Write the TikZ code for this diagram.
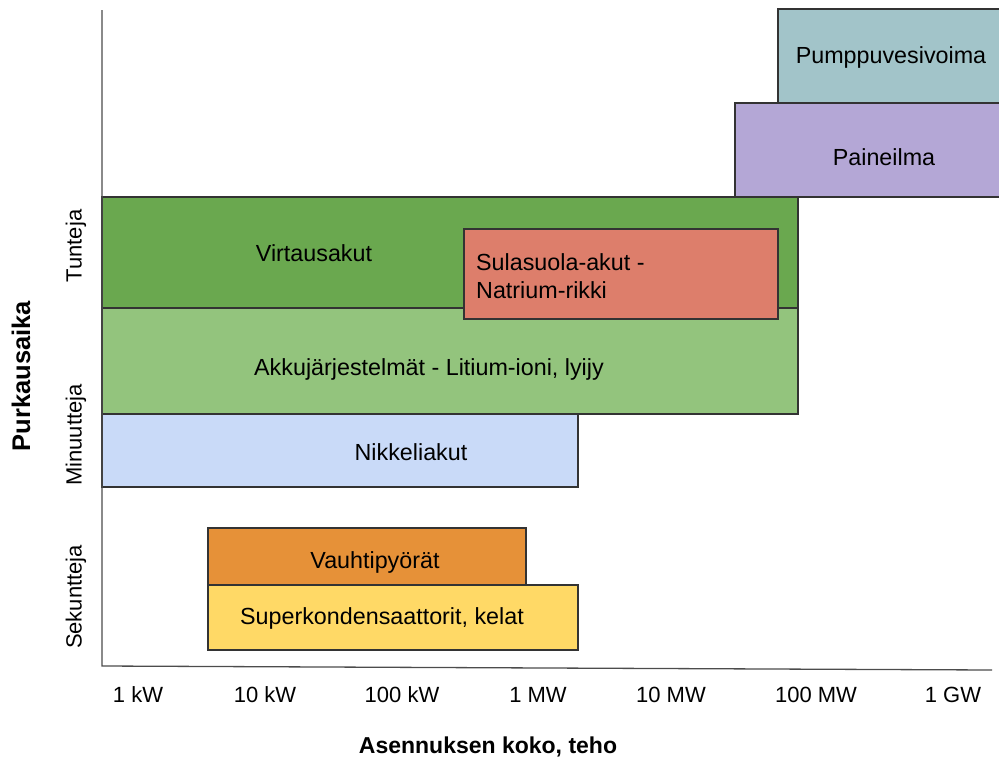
\documentclass[tikz,border=0pt]{standalone}
\usepackage{fontspec}
\setmainfont{Liberation Sans}
\definecolor{pumpcol}{HTML}{A2C4C9}
\definecolor{aircol}{HTML}{B4A7D6}
\definecolor{flowcol}{HTML}{6AA84F}
\definecolor{saltcol}{HTML}{DD7E6B}
\definecolor{lithcol}{HTML}{93C47D}
\definecolor{nickcol}{HTML}{C9DAF8}
\definecolor{wheelcol}{HTML}{E69138}
\definecolor{capcol}{HTML}{FFD966}
\tikzset{%
  techbox/.style   = {draw=black!80, line width=1.2pt},%
  axisline/.style  = {draw=black!70, line width=1.3pt},%
  boxlabel/.style  = {font=\fontsize{23.3}{28}\selectfont, inner sep=0pt},%
  ticklabel/.style = {font=\fontsize{22}{26}\selectfont, inner sep=0pt},%
  rowlabel/.style  = {ticklabel, rotate=90},%
  axistitle/.style = {font=\bfseries\fontsize{23}{27}\selectfont, inner sep=0pt}%
}

\begin{document}
\begin{tikzpicture}[x=1pt,y=-1pt]
	\clip (0,0) rectangle (999,761);
	% storage technologies
	\draw[techbox, fill=pumpcol]  (778,9)   rectangle (1010,103);
	\draw[techbox, fill=aircol]   (735,103) rectangle (1010,197);
	\draw[techbox, fill=flowcol]  (102,197) rectangle (798,308);
	\draw[techbox, fill=lithcol]  (102,308) rectangle (798,414);
	\draw[techbox, fill=saltcol]  (464,229) rectangle (778,319);
	\draw[techbox, fill=nickcol]  (102,414) rectangle (578,487);
	\draw[techbox, fill=wheelcol] (208,528) rectangle (526,585);
	\draw[techbox, fill=capcol]   (208,585) rectangle (578,650);
	\node[boxlabel] (pump)  at (891,57)  {Pumppuvesivoima};
	\node[boxlabel] (air)   at (884,157) {Paineilma};
	\node[boxlabel] (flow)  at (314,253) {Virtausakut};
	\node[boxlabel, align=left, anchor=west] (salt) at (476,276) {Sulasuola-akut -\\Natrium-rikki};
	\node[boxlabel] (lith)  at (429,369) {Akkujärjestelmät - Litium-ioni, lyijy};
	\node[boxlabel] (nick)  at (411,452) {Nikkeliakut};
	\node[boxlabel] (wheel) at (375,562) {Vauhtipyörät};
	\node[boxlabel] (cap)   at (382,618) {Superkondensaattorit, kelat};
	% axes
	\coordinate (top)    at (102,10);
	\coordinate (origin) at (102,666);
	\coordinate (right)  at (992,670);
	\draw[axisline] (top) -- (origin) -- (right);
	\node[ticklabel] (kw1)   at (138,695) {1 kW};
	\node[ticklabel] (kw10)  at (265,695) {10 kW};
	\node[ticklabel] (kw100) at (402,695) {100 kW};
	\node[ticklabel] (mw1)   at (538,695) {1 MW};
	\node[ticklabel] (mw10)  at (671,695) {10 MW};
	\node[ticklabel] (mw100) at (816,695) {100 MW};
	\node[ticklabel] (gw1)   at (953,695) {1 GW};
	\node[rowlabel] (hours)   at (76,246) {Tunteja};
	\node[rowlabel] (minutes) at (76,435) {Minuutteja};
	\node[rowlabel] (seconds) at (76,597) {Sekuntteja};
	\node[axistitle] (xtitle) at (488,747) {Asennuksen koko, teho};
	\node[axistitle, rotate=90, font=\bfseries\fontsize{25.5}{30}\selectfont] (ytitle) at (21,376) {Purkausaika};
\end{tikzpicture}
\end{document}
